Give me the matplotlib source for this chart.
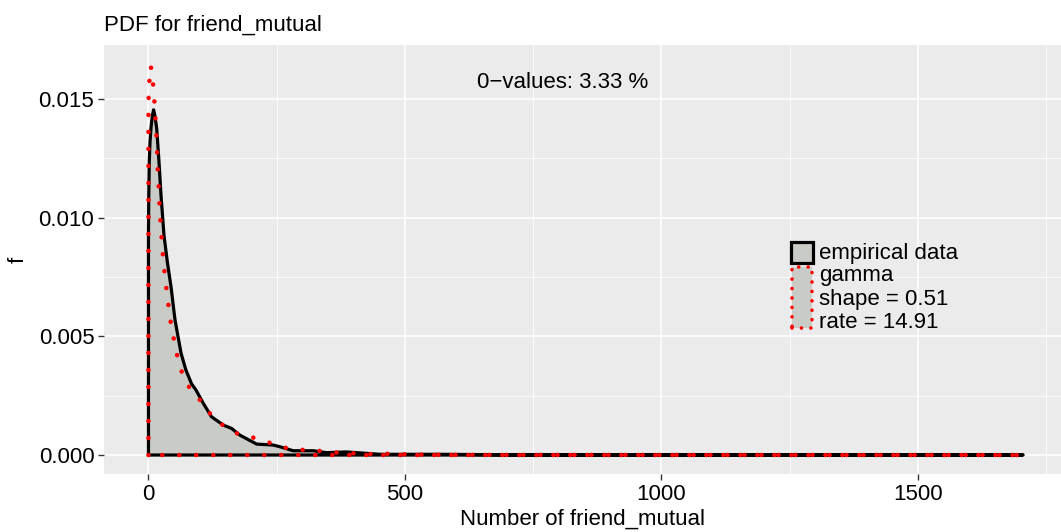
import matplotlib
matplotlib.use("Agg")
import matplotlib.pyplot as plt
from matplotlib.patches import Rectangle
from matplotlib.ticker import MultipleLocator

plt.rcParams['font.family'] = ['Liberation Sans', 'DejaVu Sans']

# empirical density (outline of polygon)
emp_x = [0, 0, 0.6, 1.6, 3, 5, 7.5, 10, 12.5, 16, 20.5, 24.4, 30.2, 37, 43.9, 51.7,
         63.4, 73, 84, 92.6, 106.8, 123, 146, 162, 178, 211, 243, 256, 282, 321, 347,
         386, 451, 568, 700, 1705, 1705]
emp_y = [0, 0.0093, 0.0110, 0.01236, 0.0132, 0.0138, 0.0143, 0.01455, 0.0143, 0.01377,
         0.01236, 0.01096, 0.00927, 0.0081, 0.0071, 0.0057, 0.0043, 0.00358, 0.0030,
         0.00274, 0.00218, 0.00161, 0.00126, 0.00112, 0.00084, 0.00046, 0.00042,
         0.00035, 0.00018, 0.00018, 0.0001, 0.00013, 0.00003, 0.00003, 0.00001,
         0.00001, 0]

# fitted gamma density
gam_x = [0, 0, 1, 4, 8.2, 9.4, 12.7, 14, 16, 17.2, 18.5, 20.5, 21.8, 23.8, 26.3, 28.8,
         32.2, 36, 40, 44.4, 51, 57.5, 67.3, 82.8, 106, 125, 150.5, 178, 209.5, 240,
         271, 304, 336, 369, 402.5, 435, 467, 520, 600, 1705]
gam_y = [0, 0.0148, 0.0155, 0.0164, 0.01609, 0.01538, 0.01465, 0.01395, 0.01324,
         0.01254, 0.0118, 0.0111, 0.01038, 0.00968, 0.00897, 0.00824, 0.00754, 0.00683,
         0.00613, 0.00542, 0.00472, 0.00402, 0.00334, 0.00272, 0.00219, 0.00159,
         0.00117, 0.00085, 0.00071, 0.00049, 0.00028, 0.00021, 0.00017, 0.0001,
         0.00007, 0.00004, 0.00005, 0.00002, 0.000005, 0]

zero_pct = 3.33
gamma_shape = 0.51
gamma_rate = 14.91

W, H = 1061, 532
fig = plt.figure(figsize=(W / 100, H / 100), dpi=100)
ax = fig.add_axes([104 / W, (H - 474) / H, (W - 104) / W, (474 - 45) / H])
ax.set_facecolor('#EBEBEB')
for s in ax.spines.values():
    s.set_visible(False)

fill_col = '#C9CBC7'
ax.fill(emp_x, emp_y, facecolor=fill_col, edgecolor='black', linewidth=2.3,
        joinstyle='round', zorder=3)
gx = gam_x + [0]
gy = gam_y + [0]
ax.plot(gx, gy, color='#FF0000', linewidth=3.3, linestyle=(0, (0.01, 3.7)),
        dash_capstyle='round', zorder=4)

ax.set_xlim(-86.7, 1779)
ax.set_ylim(-0.0008, 0.01728)

ax.xaxis.set_major_locator(MultipleLocator(500))
ax.xaxis.set_minor_locator(MultipleLocator(250))
ax.yaxis.set_major_locator(MultipleLocator(0.005))
ax.yaxis.set_minor_locator(MultipleLocator(0.0025))
ax.set_yticks([0, 0.005, 0.010, 0.015])
ax.set_yticklabels(['0.000', '0.005', '0.010', '0.015'])
ax.set_xticks([0, 500, 1000, 1500])
ax.set_xticklabels(['0', '500', '1000', '1500'])
ax.grid(which='major', color='white', linewidth=1.1)
ax.grid(which='minor', color='white', linewidth=0.55)
ax.set_axisbelow(True)
ax.tick_params(which='major', length=4, width=1.0, color='#333333',
               labelsize=16, labelcolor='black', pad=3)
ax.tick_params(which='minor', length=0)

ax.set_xlabel('Number of friend_mutual', fontsize=16, labelpad=3)
ax.set_ylabel('f', fontsize=16, labelpad=7)
ax.set_title('PDF for friend_mutual', fontsize=16, loc='left', pad=10)

ax.text(808, 0.01572, '0\u2212values: %.2f %%' % zero_pct, fontsize=16,
        ha='center', va='center')

# legend drawn by hand
def px(x, y):
    return x / W, 1 - y / H

tr = fig.transFigure
x0, y0 = px(791, 263)
fig.patches.append(Rectangle((x0, y0), 22 / W, 21 / H, transform=tr,
                             facecolor=fill_col, edgecolor='black', linewidth=2.3))
x0, y0 = px(792, 328)
fig.patches.append(Rectangle((x0, y0), 20 / W, 61 / H, transform=tr,
                             facecolor=fill_col, edgecolor='#FF0000', linewidth=2.6,
                             linestyle=(0, (0.01, 2.6)), capstyle='round'))
labels = ['empirical data', 'gamma', 'shape = %.2f' % gamma_shape,
          'rate = %.2f' % gamma_rate]
for i, lab in enumerate(labels):
    fig.text(819 / W, 1 - (253 + 23 * i) / H, lab, fontsize=16,
             ha='left', va='center')

fig.savefig('out.png', dpi=100)
